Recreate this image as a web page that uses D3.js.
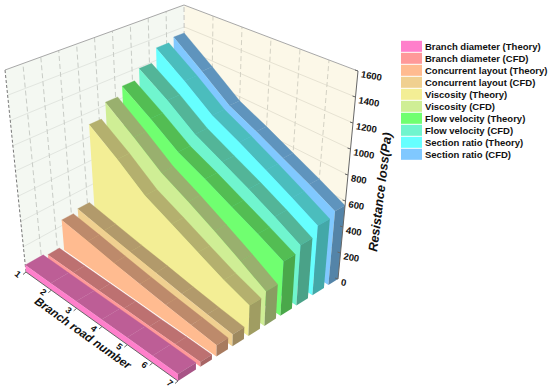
<!DOCTYPE html>
<html>
<head>
<meta charset="utf-8">
<script src="https://cdnjs.cloudflare.com/ajax/libs/d3/7.8.5/d3.min.js"></script>
<style>
body { margin: 0; background: #fff; }
text { font-family: "Liberation Sans", Arial, sans-serif; font-weight: bold; fill: #111; }
</style>
</head>
<body>
<script>
var branches = [1, 2, 3, 4, 5, 6, 7];
var seriesNames = [
    "Branch diameter (Theory)", "Branch diameter (CFD)",
    "Concurrent layout (Theory)", "Concurrent layout (CFD)",
    "Viscosity (Theory)", "Viscosity (CFD)",
    "Flow velocity (Theory)", "Flow velocity (CFD)",
    "Section ratio (Theory)", "Section ratio (CFD)"
];
var seriesColors = ["#ff7fcb", "#ff9999", "#ffbb90", "#f0d090", "#f3ee95", "#cfee95", "#70ff70", "#70f5ce", "#66ffff", "#80c8ff"];

var branchDiameterTheory = [55, 54, 53, 52, 51, 50, 48];
var branchDiameterCfd = [36, 36, 35, 35, 34, 34, 33];
var concurrentTheory = [245, 210, 175, 145, 120, 100, 80];
var concurrentCfd = [265, 225, 190, 160, 130, 105, 85];
var viscosityTheory = [900, 735, 565, 465, 370, 285, 220];
var viscosityCfd = [1025, 850, 680, 570, 460, 355, 250];
var flowTheory = [1100, 940, 780, 680, 580, 490, 400];
var flowCfd = [1190, 1030, 860, 750, 650, 550, 450];
var sectionTheory = [1310, 1130, 950, 840, 730, 625, 525];
var sectionCfd = [1345, 1150, 965, 860, 755, 660, 565];

var seriesValues = [branchDiameterTheory, branchDiameterCfd, concurrentTheory, concurrentCfd,
    viscosityTheory, viscosityCfd, flowTheory, flowCfd, sectionTheory, sectionCfd];
var valueTicks = [0, 200, 400, 600, 800, 1000, 1200, 1400, 1600];

var width = 550, height = 391;

// box corners on screen, floor then top
var floorA = [26, 272], floorB = [178, 381], floorC = [338, 279], floorD = [185, 180];
var topA = [5, 70], topB = [177, 148], topC = [358, 71], topD = [184, 5];

var branchScale = d3.scaleLinear().domain([1, 7]).range([0, 1]);
var valueScale = d3.scaleLinear().domain([0, 1600]).range([0, 1]);
var seriesScale = d3.scaleBand().domain(seriesNames).range([0.04, 1.012]).paddingInner(0.28);

// u along branch axis, v from front to back, w up
var project = function(u, v, w)
{
    var mix = function(i, a, b, c, d) {
        return (1 - u) * (1 - v) * a[i] + u * (1 - v) * b[i] + u * v * c[i] + (1 - u) * v * d[i];
    };
    var fx = mix(0, floorA, floorB, floorC, floorD), fy = mix(1, floorA, floorB, floorC, floorD);
    var tx = mix(0, topA, topB, topC, topD), ty = mix(1, topA, topB, topC, topD);
    return [fx + (tx - fx) * w, fy + (ty - fy) * w];
};

var line = d3.line();
var poly = function(pts) { return line(pts) + "Z"; };

var shade = function(color, k)
{
    var c = d3.rgb(color);
    return d3.rgb(c.r * k, c.g * k, c.b * k).formatHex();
};

var svg = d3.select("body").append("svg")
    .attr("width", width)
    .attr("height", height);

// walls
svg.append("path")
    .attr("d", poly([floorA, topA, topD, floorD]))
    .attr("fill", "#f4f8f2");
svg.append("path")
    .attr("d", poly([floorD, topD, topC, floorC]))
    .attr("fill", "#fcf8e8");

var grid = svg.append("g").attr("fill", "none");

grid.selectAll(".left-h")
    .data(valueTicks.slice(1, -1)).enter()
    .append("path")
    .attr("d", function(d) { return line([project(0, 0, valueScale(d)), project(0, 1, valueScale(d))]); })
    .attr("stroke", "#e2e6e0");
grid.selectAll(".back-h")
    .data(valueTicks.slice(1, -1)).enter()
    .append("path")
    .attr("d", function(d) { return line([project(0, 1, valueScale(d)), project(1, 1, valueScale(d))]); })
    .attr("stroke", "#e6e2d2");
grid.selectAll(".left-v")
    .data(d3.range(1, 10)).enter()
    .append("path")
    .attr("d", function(d) { return line([project(0, d / 10, 0), project(0, d / 10, 1)]); })
    .attr("stroke", "#c8ccc6")
    .attr("stroke-dasharray", "5,3");
grid.selectAll(".back-v")
    .data(branches.slice(1, -1)).enter()
    .append("path")
    .attr("d", function(d) { return line([project(branchScale(d), 1, 0), project(branchScale(d), 1, 1)]); })
    .attr("stroke", "#d4d2c4")
    .attr("stroke-dasharray", "5,3");

// box outline
svg.append("path")
    .attr("d", line([topA, topD, topC]))
    .attr("fill", "none")
    .attr("stroke", "#a8a8a8");
svg.append("path")
    .attr("d", line([project(0, 1, 0), topD]))
    .attr("fill", "none")
    .attr("stroke", "#c4c4c0")
    .attr("stroke-dasharray", "5,3");
svg.append("path")
    .attr("d", line([floorA, topA]))
    .attr("fill", "none")
    .attr("stroke", "#777")
    .attr("stroke-dasharray", "3,2");

// ribbons, back one first
var order = d3.range(seriesNames.length).reverse();
var ribbons = svg.selectAll(".ribbon")
    .data(order).enter()
    .append("g")
    .attr("class", "ribbon");

var frontOf = function(i) { return i == 0 ? 0 : seriesScale(seriesNames[i]); };
var backOf = function(i) { return Math.min(1, seriesScale(seriesNames[i]) + seriesScale.bandwidth()); };

ribbons.selectAll(".top")
    .data(function(i) { return branches.slice(0, -1).map(function(b, k) { return {i: i, k: k}; }); }).enter()
    .append("path")
    .attr("fill", function(d) { return shade(seriesColors[d.i], 0.74); })
    .attr("stroke", function(d) { return shade(seriesColors[d.i], 0.74); })
    .attr("stroke-width", 0.3)
    .attr("d", function(d) {
        var v = seriesValues[d.i];
        var u0 = branchScale(branches[d.k]), u1 = branchScale(branches[d.k + 1]);
        var w0 = valueScale(v[d.k]), w1 = valueScale(v[d.k + 1]);
        return poly([project(u0, frontOf(d.i), w0), project(u1, frontOf(d.i), w1),
            project(u1, backOf(d.i), w1), project(u0, backOf(d.i), w0)]);
    });

ribbons.append("path")
    .attr("fill", function(i) { return seriesColors[i]; })
    .attr("d", function(i) {
        var s = frontOf(i);
        var pts = branches.map(function(b, k) { return project(branchScale(b), s, valueScale(seriesValues[i][k])); });
        return poly(pts.concat([project(1, s, 0), project(0, s, 0)]));
    });

ribbons.append("path")
    .attr("fill", function(i) { return shade(seriesColors[i], 0.66); })
    .attr("d", function(i) {
        var w = valueScale(seriesValues[i][6]);
        return poly([project(1, frontOf(i), w), project(1, backOf(i), w), project(1, backOf(i), 0), project(1, frontOf(i), 0)]);
    });

// branch axis
svg.append("path")
    .attr("d", line([floorA, floorB]))
    .attr("fill", "none")
    .attr("stroke", "#666");
var branchTicks = svg.selectAll(".branch-tick")
    .data(branches).enter()
    .append("g")
    .attr("transform", function(d) {
        var p = project(branchScale(d), 0, 0);
        return "translate(" + p[0] + "," + p[1] + ")";
    });
branchTicks.append("line")
    .attr("x2", -3).attr("y2", 2.5)
    .attr("stroke", "#666");
branchTicks.append("text")
    .attr("transform", "translate(-8,2) rotate(38)")
    .attr("text-anchor", "middle")
    .attr("dy", "0.35em")
    .attr("font-size", 9)
    .text(function(d) { return d; });

svg.append("text")
    .attr("transform", "translate(83,333) rotate(35.5)")
    .attr("text-anchor", "middle")
    .attr("dy", "0.35em")
    .attr("font-size", 11.7)
    .attr("font-style", "italic")
    .text("Branch road number");

// value axis
svg.append("path")
    .attr("d", line([floorC, topC]))
    .attr("fill", "none")
    .attr("stroke", "#666");
var valueAxisTicks = svg.selectAll(".value-tick")
    .data(valueTicks).enter()
    .append("g")
    .attr("transform", function(d) {
        var p = project(1, 1, valueScale(d));
        return "translate(" + p[0] + "," + p[1] + ")";
    });
valueAxisTicks.append("line")
    .attr("x1", -3).attr("y1", -1)
    .attr("stroke", "#666");
valueAxisTicks.append("text")
    .attr("transform", "translate(3,3) rotate(10)")
    .attr("dy", "0.35em")
    .attr("font-size", 9.5)
    .text(function(d) { return d; });

svg.append("text")
    .attr("transform", "translate(380,192) rotate(-83)")
    .attr("text-anchor", "middle")
    .attr("dy", "0.35em")
    .attr("font-size", 12.7)
    .attr("font-style", "italic")
    .text("Resistance loss(Pa)");

// legend
var legendY = d3.scalePoint().domain(seriesNames).range([46.3, 154.3]);
var legend = svg.selectAll(".legend")
    .data(seriesNames).enter()
    .append("g")
    .attr("transform", function(d) { return "translate(401," + legendY(d) + ")"; });
legend.append("rect")
    .attr("y", -5.5)
    .attr("width", 21)
    .attr("height", 11)
    .attr("fill", function(d, i) { return seriesColors[i]; });
legend.append("text")
    .attr("x", 24)
    .attr("dy", "0.35em")
    .attr("font-size", 9.5)
    .text(function(d) { return d; });
</script>
</body>
</html>
